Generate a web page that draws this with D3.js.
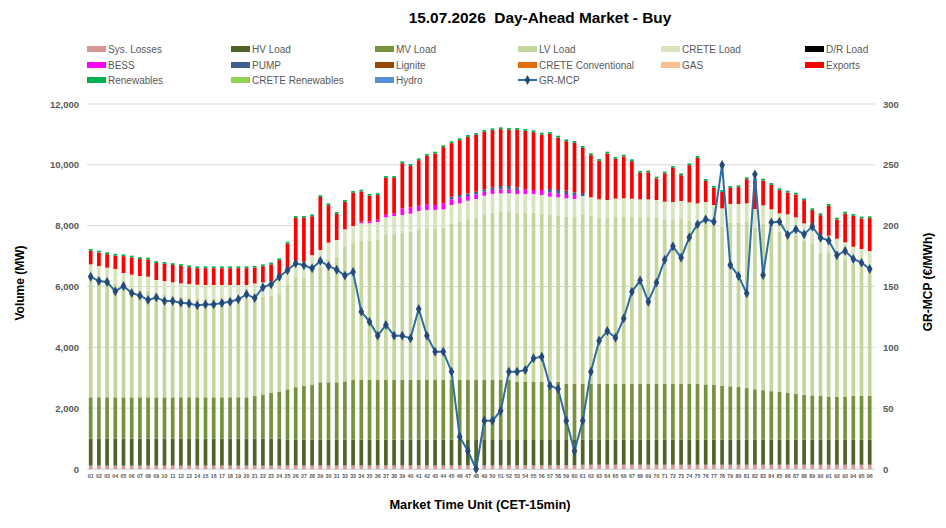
<!DOCTYPE html>
<html>
<head>
<meta charset="utf-8">
<script src="https://cdn.jsdelivr.net/npm/d3@7"></script>
<style>
  body { margin: 0; background: #fff; }
  svg { font-family: "Liberation Sans", Arial, sans-serif; }
</style>
</head>
<body>
<svg id="chart"></svg>
<script>
// market time units 01..96
var slots = d3.range(1, 97).map(d => d < 10 ? "0" + d : "" + d);
var volumeTicks = [0, 2000, 4000, 6000, 8000, 10000, 12000];
var priceTicks = [0, 50, 100, 150, 200, 250, 300];

var sysLosses = [
  110,110,110,110,110,110,110,110,110,110,110,110,
  110,110,110,110,110,110,110,110,110,110,110,110,
  115,115,115,115,115,115,115,115,115,115,115,115,
  115,115,115,115,115,115,115,115,115,120,120,120,
  120,120,120,120,120,120,120,120,120,120,120,120,
  140,140,140,140,140,140,140,140,140,140,140,140,
  140,140,140,140,140,140,140,140,140,140,140,140,
  140,140,140,140,140,140,140,140,140,140,140,140];
var hvLoad = [
  887,887,887,887,887,887,887,887,887,887,887,887,
  887,887,887,887,887,887,887,887,887,887,887,887,
  850,850,850,850,850,850,850,850,850,850,850,850,
  850,850,850,850,850,850,850,850,850,835,835,835,
  835,835,835,835,835,835,835,835,835,835,835,835,
  820,820,820,820,820,820,820,820,820,820,820,820,
  820,820,820,820,820,820,820,820,820,820,820,820,
  820,820,820,820,820,820,820,820,820,820,820,820];
var mvLoad = [
  1360,1360,1360,1360,1360,1360,1360,1360,1360,1360,1360,1360,
  1360,1360,1360,1360,1360,1360,1360,1360,1400,1450,1500,1550,
  1655,1725,1765,1795,1885,1885,1885,1915,1960,1960,1960,1960,
  1960,1960,1960,1960,1960,1960,1960,1960,1960,1970,1970,1970,
  1970,1970,1970,1970,1905,1905,1905,1905,1905,1905,1840,1840,
  1835,1835,1835,1835,1835,1835,1835,1835,1835,1835,1835,1835,
  1835,1835,1835,1820,1800,1780,1760,1740,1700,1660,1630,1600,
  1570,1540,1510,1480,1460,1440,1420,1410,1420,1440,1440,1440];
var lvLoad = [
  3872,3821,3772,3733,3607,3557,3518,3501,3397,3369,3330,3297,
  3280,3258,3252,3252,3252,3252,3247,3242,3244,3217,3201,3201,
  3455,3616,3566,3740,3810,4046,4129,4445,4503,4590,4584,4619,
  4768,4807,4834,4873,4956,4989,4984,5006,5143,5198,5285,5336,
  5445,5500,5522,5522,5566,5571,5571,5538,5488,5466,5504,5482,
  5579,5537,5476,5454,5498,5514,5503,5481,5486,5464,5409,5393,
  5426,5377,5339,5398,5314,5225,5382,5402,5464,5323,5478,5377,
  5280,5282,5219,5056,5002,4723,4725,4640,4517,4357,4288,4227];
var creteLoad = [
  500,495,490,485,480,475,470,465,460,455,450,450,
  445,445,440,440,440,440,445,450,460,470,480,490,
  500,510,520,530,540,545,550,555,560,565,570,575,
  580,585,590,595,600,600,605,605,610,610,610,615,
  615,615,615,615,615,610,610,610,605,605,600,600,
  600,600,595,595,595,590,590,590,585,585,585,590,
  590,595,600,600,605,605,610,610,610,605,600,600,
  595,590,585,580,575,570,565,560,555,550,545,540];
var bess = [
  0,0,0,0,0,0,0,0,0,0,0,0,
  0,0,0,0,0,0,0,0,0,0,0,0,
  0,0,0,0,0,0,0,0,0,50,60,80,
  87,87,220,209,175,187,164,197,187,197,155,154,
  132,132,131,131,131,154,132,165,143,132,141,132,
  0,0,0,0,0,0,0,0,0,0,0,0,
  0,0,0,0,0,0,0,0,0,0,0,0,
  0,0,0,0,0,0,0,0,0,0,0,0];
var pump = [
  0,0,0,0,0,0,0,0,0,0,0,0,
  0,0,0,0,0,0,0,0,0,0,0,0,
  0,0,0,0,0,0,0,0,0,0,0,0,
  0,0,0,0,0,0,0,0,87,77,87,87,
  77,77,110,110,87,0,0,0,110,110,110,87,
  100,0,0,0,0,0,0,0,0,0,0,0,
  0,0,0,0,0,0,0,0,0,0,0,0,
  0,0,0,0,0,0,0,0,0,0,0,0];
var exportsBuy = [
  444,445,445,440,554,565,560,567,559,564,570,571,
  553,542,553,553,553,553,553,553,516,532,549,629,
  835,1442,1442,1280,1743,1233,861,904,1091,994,846,808,
  1212,1168,1485,1364,1497,1594,1694,1848,1760,1804,1858,1868,
  1890,1890,1869,1847,1891,1923,1901,1824,1813,1725,1629,1627,
  1485,1386,1266,1529,1309,1375,1233,874,889,707,931,1123,
  849,1222,1496,696,565,542,532,554,795,937,817,805,
  762,718,751,763,513,652,982,633,948,1016,1003,1080];
var renewables = [
  60,60,60,60,60,60,60,60,60,60,60,60,
  60,60,60,60,60,60,60,60,60,60,60,60,
  60,60,60,60,60,60,60,60,60,60,60,60,
  60,60,60,60,60,60,60,60,60,60,60,60,
  60,60,60,60,60,60,60,60,60,60,60,60,
  60,60,60,60,60,60,60,60,60,60,60,60,
  60,60,60,60,60,60,60,60,60,60,60,60,
  60,60,60,60,60,60,60,60,60,60,60,60];
var grMcp = [
  158,154.5,153.7,146,150.4,144.6,142.5,139,141,138,138,136.7,
  136,134.5,135.3,135.3,136.4,137.5,139.5,143.6,140.5,149.3,151.8,158,
  163.3,169,167.4,165,171,166.8,163.8,159,162,129.3,121.1,109.6,
  118.4,109.6,109.6,107.4,131.5,109.6,96.4,96.4,80,26.6,14.8,0,
  39.7,39.7,47.9,80,80,81.4,91,92.3,68.5,65.8,39.7,14.8,
  39.7,80,105.5,113.4,107.9,123.8,145.7,155,137.5,153.2,172,183,
  173.7,190.4,201.1,205.2,203.3,249.9,167.7,158.6,144.4,242.2,159.4,202.7,
  203.3,192.3,197,192.9,199.2,190.1,187.7,175.6,179.2,172.6,169.6,164.4];
var zeros = slots.map(() => 0);

// stack order = legend order
var series = [
  { key: "Sys. Losses", color: "#da9694", values: sysLosses },
  { key: "HV Load", color: "#4f6228", values: hvLoad },
  { key: "MV Load", color: "#76923c", values: mvLoad },
  { key: "LV Load", color: "#c4d79b", values: lvLoad },
  { key: "CRETE Load", color: "#d8e4bc", values: creteLoad },
  { key: "D/R Load", color: "#000000", values: zeros },
  { key: "BESS", color: "#ff00ff", values: bess },
  { key: "PUMP", color: "#3f5f93", values: pump },
  { key: "Lignite", color: "#974706", values: zeros },
  { key: "CRETE Conventional", color: "#e26b0a", values: zeros },
  { key: "GAS", color: "#fabf8f", values: zeros },
  { key: "Exports", color: "#ff0000", values: exportsBuy },
  { key: "Renewables", color: "#00b050", values: renewables },
  { key: "CRETE Renewables", color: "#92d050", values: zeros },
  { key: "Hydro", color: "#558ed5", values: zeros }
];

var width = 946, height = 528;
var svg = d3.select("#chart").attr("width", width).attr("height", height);

var x = d3.scaleBand().domain(slots).range([86.6, 873.8]).paddingInner(0.55).paddingOuter(0.275);
var y = d3.scaleLinear().domain([0, 12000]).range([469, 104]);
var y2 = d3.scaleLinear().domain([0, 300]).range([469, 104]);

// gridlines
svg.append("g").selectAll("line").data(volumeTicks).join("line")
    .attr("x1", 87).attr("x2", 875)
    .attr("y1", d => y(d)).attr("y2", d => y(d))
    .attr("stroke", "#d9d9d9").attr("stroke-width", 1);

// left axis
var yAxis = svg.append("g").attr("transform", "translate(79,0)")
    .call(d3.axisLeft(y).tickValues(volumeTicks).tickSize(0).tickPadding(0).tickFormat(d3.format(",")));
yAxis.select(".domain").remove();
yAxis.selectAll("text").attr("fill", "#595959").attr("font-size", "9.5px").attr("font-weight", "bold");

// right axis
var y2Axis = svg.append("g").attr("transform", "translate(883,0)")
    .call(d3.axisRight(y2).tickValues(priceTicks).tickSize(0).tickPadding(0));
y2Axis.select(".domain").remove();
y2Axis.selectAll("text").attr("fill", "#595959").attr("font-size", "9.5px").attr("font-weight", "bold");

// bars
var table = slots.map((s, i) => {
  var row = { slot: s };
  series.forEach(sr => { row[sr.key] = sr.values[i]; });
  return row;
});
var stacked = d3.stack().keys(series.map(s => s.key))(table);

svg.append("g").selectAll("g").data(stacked).join("g")
    .attr("fill", (d, i) => series[i].color)
  .selectAll("rect").data(d => d).join("rect")
    .attr("x", d => x(d.data.slot))
    .attr("width", x.bandwidth())
    .attr("y", d => y(d[1]))
    .attr("height", d => y(d[0]) - y(d[1]));

// x axis labels
var xAxis = svg.append("g").attr("transform", "translate(0,469)")
    .call(d3.axisBottom(x).tickSize(0).tickPadding(5));
xAxis.select(".domain").attr("stroke", "#d9d9d9");
xAxis.selectAll("text").attr("fill", "#595959").attr("font-size", "5.3px").attr("font-weight", "bold");

// GR-MCP line
var cx = (d, i) => x(slots[i]) + x.bandwidth() / 2;
svg.append("path")
    .datum(grMcp)
    .attr("fill", "none")
    .attr("stroke", "#2e6da4")
    .attr("stroke-width", 2)
    .attr("d", d3.line().x(cx).y(d => y2(d)));

svg.append("g").selectAll("path").data(grMcp).join("path")
    .attr("transform", (d, i) => "translate(" + cx(d, i) + "," + y2(d) + ")")
    .attr("d", d3.symbol(d3.symbolDiamond, 28))
    .attr("fill", "#254a76");

// titles
svg.append("text")
    .attr("x", 540).attr("y", 23)
    .attr("text-anchor", "middle")
    .attr("font-size", "15.4px").attr("font-weight", "bold")
    .attr("xml:space", "preserve")
    .text("15.07.2026  Day-Ahead Market - Buy");

svg.append("text")
    .attr("transform", "translate(24,283) rotate(-90)")
    .attr("text-anchor", "middle")
    .attr("font-size", "12px").attr("font-weight", "bold")
    .text("Volume (MW)");

svg.append("text")
    .attr("transform", "translate(932,282) rotate(-90)")
    .attr("text-anchor", "middle")
    .attr("font-size", "12px").attr("font-weight", "bold")
    .text("GR-MCP (€/MWh)");

svg.append("text")
    .attr("x", 480).attr("y", 509)
    .attr("text-anchor", "middle")
    .attr("font-size", "12.8px").attr("font-weight", "bold")
    .text("Market Time Unit (CET-15min)");

// legend: 6 columns, 3 rows
var legendItems = series.map(s => ({ key: s.key, color: s.color }))
    .concat([{ key: "GR-MCP", line: true }]);
var colX = [87, 231, 375, 518, 661, 805];
var rowY = [49, 65, 80];

var leg = svg.append("g").selectAll("g").data(legendItems).join("g")
    .attr("transform", (d, i) => "translate(" + colX[i % 6] + "," + rowY[Math.floor(i / 6)] + ")");

leg.filter(d => !d.line).append("rect")
    .attr("x", 0).attr("y", -3).attr("width", 19).attr("height", 6)
    .attr("fill", d => d.color);

var lineLeg = leg.filter(d => d.line);
lineLeg.append("line")
    .attr("x1", 0).attr("x2", 19).attr("y1", 0).attr("y2", 0)
    .attr("stroke", "#2e6da4").attr("stroke-width", 2);
lineLeg.append("path")
    .attr("transform", "translate(9.5,0)")
    .attr("d", d3.symbol(d3.symbolDiamond, 28))
    .attr("fill", "#254a76");

leg.append("text")
    .attr("x", 21).attr("y", 0).attr("dy", "0.35em")
    .attr("fill", "#595959").attr("font-size", "10px")
    .text(d => d.key);
</script>
</body>
</html>
